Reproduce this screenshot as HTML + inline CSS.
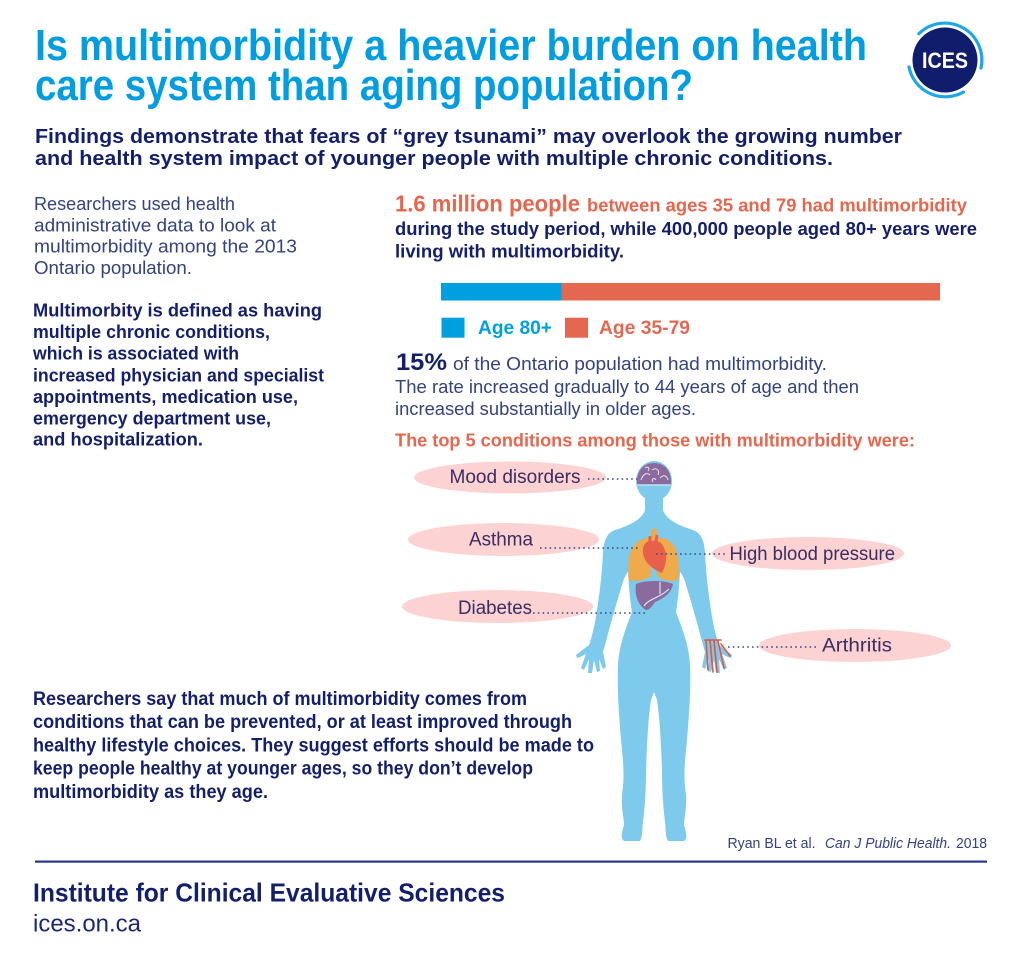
<!DOCTYPE html>
<html><head><meta charset="utf-8"><style>
html,body{margin:0;padding:0;background:#fff;}
svg{display:block;}
text{font-family:"Liberation Sans",Arial,sans-serif;}
.b{font-weight:bold;}
</style></head><body>
<svg width="1024" height="960" viewBox="0 0 1024 960" xmlns="http://www.w3.org/2000/svg">
<rect width="1024" height="960" fill="#fff"/>

<!-- Title -->
<text class="b" x="35" y="60" font-size="44" fill="#009ee0" textLength="832" lengthAdjust="spacingAndGlyphs">Is multimorbidity a heavier burden on health</text>
<text class="b" x="35" y="100" font-size="44" fill="#009ee0" textLength="658" lengthAdjust="spacingAndGlyphs">care system than aging population?</text>

<!-- Logo -->
<circle cx="945" cy="60" r="32.5" fill="#101c6c"/>
<path d="M918.8,33.8 A37,37 0 0 1 981,68" fill="none" stroke="#1fa6e6" stroke-width="3.2" stroke-linecap="round"/>
<path d="M963.5,92 A37,37 0 0 1 909,67" fill="none" stroke="#1fa6e6" stroke-width="3.2" stroke-linecap="round"/>
<text class="b" x="922" y="68" font-size="22" fill="#fff" textLength="46" lengthAdjust="spacingAndGlyphs">ICES</text>

<!-- Subtitle -->
<text class="b" x="35" y="143" font-size="20.5" fill="#131f6b" textLength="867" lengthAdjust="spacingAndGlyphs">Findings demonstrate that fears of “grey tsunami” may overlook the growing number</text>
<text class="b" x="35" y="165" font-size="20.5" fill="#131f6b" textLength="798" lengthAdjust="spacingAndGlyphs">and health system impact of younger people with multiple chronic conditions.</text>

<!-- Left paragraph -->
<g font-size="18.5" fill="#34427f">
<text x="34" y="210" textLength="201" lengthAdjust="spacingAndGlyphs">Researchers used health</text>
<text x="34" y="231.5" textLength="242" lengthAdjust="spacingAndGlyphs">administrative data to look at</text>
<text x="34" y="252.7" textLength="263" lengthAdjust="spacingAndGlyphs">multimorbidity among the 2013</text>
<text x="34" y="274" textLength="158" lengthAdjust="spacingAndGlyphs">Ontario population.</text>
</g>
<g class="b" font-size="18.5" fill="#131f6b" font-weight="bold">
<text x="33" y="316.7" textLength="289" lengthAdjust="spacingAndGlyphs">Multimorbity is defined as having</text>
<text x="33" y="338" textLength="237" lengthAdjust="spacingAndGlyphs">multiple chronic conditions,</text>
<text x="33" y="359.6" textLength="206" lengthAdjust="spacingAndGlyphs">which is associated with</text>
<text x="33" y="381.5" textLength="291" lengthAdjust="spacingAndGlyphs">increased physician and specialist</text>
<text x="33" y="402.8" textLength="265" lengthAdjust="spacingAndGlyphs">appointments, medication use,</text>
<text x="33" y="424.3" textLength="238" lengthAdjust="spacingAndGlyphs">emergency department use,</text>
<text x="33" y="445.6" textLength="170" lengthAdjust="spacingAndGlyphs">and hospitalization.</text>
</g>

<!-- Right block -->
<text class="b" x="395" y="211.7" font-size="23" fill="#e5674e" textLength="185" lengthAdjust="spacingAndGlyphs">1.6 million people</text>
<text class="b" x="587" y="211.7" font-size="18.5" fill="#e5674e" textLength="380" lengthAdjust="spacingAndGlyphs">between ages 35 and 79 had multimorbidity</text>
<text class="b" x="395" y="235" font-size="18.5" fill="#131f6b" textLength="582" lengthAdjust="spacingAndGlyphs">during the study period, while 400,000 people aged 80+ years were</text>
<text class="b" x="395" y="257.7" font-size="18.5" fill="#131f6b" textLength="229" lengthAdjust="spacingAndGlyphs">living with multimorbidity.</text>

<rect x="441" y="283" width="121" height="17.5" fill="#009fe0"/>
<rect x="561.5" y="283" width="378.5" height="17.5" fill="#e4684f"/>

<rect x="441.5" y="317.7" width="23" height="20" fill="#009fe0"/>
<text class="b" x="478" y="334" font-size="19.5" fill="#009fe0" textLength="74" lengthAdjust="spacingAndGlyphs">Age 80+</text>
<rect x="565" y="317.7" width="23" height="20" fill="#e4684f"/>
<text class="b" x="599" y="334" font-size="19.5" fill="#e4684f" textLength="91" lengthAdjust="spacingAndGlyphs">Age 35-79</text>

<text class="b" x="396" y="370" font-size="24" fill="#131f6b" textLength="51" lengthAdjust="spacingAndGlyphs">15%</text>
<text x="453" y="370" font-size="18.5" fill="#34427f" textLength="374" lengthAdjust="spacingAndGlyphs">of the Ontario population had multimorbidity.</text>
<text x="395" y="393" font-size="18.5" fill="#34427f" textLength="464" lengthAdjust="spacingAndGlyphs">The rate increased gradually to 44 years of age and then</text>
<text x="395" y="415" font-size="18.5" fill="#34427f" textLength="301" lengthAdjust="spacingAndGlyphs">increased substantially in older ages.</text>

<text class="b" x="395" y="446.5" font-size="18.5" fill="#e5674e" textLength="520" lengthAdjust="spacingAndGlyphs">The top 5 conditions among those with multimorbidity were:</text>

<!-- Pink ellipses -->
<g fill="#fcd2d2">
<ellipse cx="510" cy="477.5" rx="96" ry="16"/>
<ellipse cx="503.5" cy="539.5" rx="95.5" ry="16.5"/>
<ellipse cx="808" cy="553.5" rx="96" ry="16.5"/>
<ellipse cx="497.5" cy="606.5" rx="95.5" ry="16.5"/>
<ellipse cx="855" cy="645.5" rx="96" ry="16.5"/>
</g>

<!-- Body -->
<g fill="#7dcaed">
<ellipse cx="654" cy="481" rx="18" ry="20"/>
<path d="M654,497 L663,497 L663,510 C666,520 680,526 693,530 C701,533 704,540 705,552 C706,575 709,600 713,622 C715,632 717,640 719,645 C723,648 728,652 732,655 L731,658 C727,657 724,655 722,654 L727,668 L724,670 L719,659 L720,673 L716,673 L714,660 L711,672 L708,671 L709,659 L705,669 L702,667 L705,652 C703,645 701,638 699,630 C694,612 690,598 686,585 C684,578 682,574 680,572 C679,588 678,600 676,612 C682,628 689,645 690,665 C691,690 689,715 687,740 C685,760 683,775 686,795 C687,808 684,818 684,825 C686,832 688,838 684,841 L668,841 C665,836 666,828 665,822 C663,805 662,790 662,770 C661,745 660,720 657,700 L654,692 Z"/>
<path transform="matrix(-1 0 0 1 1308 0)" d="M654,497 L663,497 L663,510 C666,520 680,526 693,530 C701,533 704,540 705,552 C706,575 709,600 713,622 C715,632 717,640 719,645 C723,648 728,652 732,655 L731,658 C727,657 724,655 722,654 L727,668 L724,670 L719,659 L720,673 L716,673 L714,660 L711,672 L708,671 L709,659 L705,669 L702,667 L705,652 C703,645 701,638 699,630 C694,612 690,598 686,585 C684,578 682,574 680,572 C679,588 678,600 676,612 C682,628 689,645 690,665 C691,690 689,715 687,740 C685,760 683,775 686,795 C687,808 684,818 684,825 C686,832 688,838 684,841 L668,841 C665,836 666,828 665,822 C663,805 662,790 662,770 C661,745 660,720 657,700 L654,692 Z"/>
</g>

<!-- Brain -->
<path d="M637,485 C636,470 644,463 654,463 C664,463 672,470 671,485 Z" fill="#8b6b9e"/>
<path d="M641,480 C643,474 647,472 650,475 M652,470 C656,467 660,470 658,475 M660,478 C664,474 667,476 668,480 M645,468 C648,466 650,468 648,471 M656,480 C654,477 651,479 653,482" fill="none" stroke="#fff" stroke-width="1" opacity="0.8"/>
<line x1="637" y1="485" x2="671" y2="485" stroke="#bfe3f5" stroke-width="1.5"/>

<!-- Lungs -->
<rect x="651" y="529" width="6" height="12" fill="#efab4b"/>
<path d="M651,538 C640,537 631,545 629,558 C628,566 628,573 629,580 C637,582 645,580 651,576 Z" fill="#efab4b"/>
<path d="M657,538 C668,537 677,545 678,558 C679,566 679,573 678,580 C670,582 662,580 657,576 Z" fill="#efab4b"/>
<!-- Heart -->
<path d="M652,541 C646,540 642,546 643,553 C644,562 652,569 662,573 C666,565 668,556 664,548 C662,542 657,540 652,541 Z" fill="#e6604a"/>
<path d="M650,542 L650,536 M656,541 L657,535" stroke="#e6604a" stroke-width="3"/>
<!-- Liver -->
<path d="M636,584 C645,580 665,580 673,584 C672,592 665,598 655,602 C652,606 650,610 646,610 C639,606 634,596 636,584 Z" fill="#8b6b9e"/>
<path d="M644,606 C648,599 660,598 669,589 M660,582 L660,594" fill="none" stroke="#cfe6f4" stroke-width="1.2"/>

<!-- Arthritis hand -->
<g stroke="#e2553f" stroke-width="1.6" fill="none" stroke-linecap="round">
<path d="M706,640 L708,670"/>
<path d="M710,640 L713,672"/>
<path d="M714,640 L717,672"/>
<path d="M718,641 L724,668"/>
<path d="M721,644 L730,656"/>
<path d="M705,640 L721,640"/>
</g>

<!-- Dotted leader lines -->
<g stroke="#3a4a8f" stroke-width="1.6" stroke-dasharray="1.6 3.2" fill="none">
<line x1="588" y1="479" x2="637" y2="479"/>
<line x1="540" y1="548" x2="640" y2="548"/>
<line x1="656" y1="554" x2="727" y2="554"/>
<line x1="533" y1="613" x2="648" y2="613"/>
<line x1="728" y1="647" x2="818" y2="647"/>
</g>

<!-- Labels -->
<g font-size="19" fill="#3a2d62">
<text x="449.5" y="483" textLength="131" lengthAdjust="spacingAndGlyphs">Mood disorders</text>
<text x="469" y="545.7" textLength="64" lengthAdjust="spacingAndGlyphs">Asthma</text>
<text x="729.5" y="560" textLength="165.5" lengthAdjust="spacingAndGlyphs">High blood pressure</text>
<text x="458" y="614" textLength="74" lengthAdjust="spacingAndGlyphs">Diabetes</text>
<text x="822" y="651.7" textLength="70" lengthAdjust="spacingAndGlyphs">Arthritis</text>
</g>

<!-- Bottom paragraph -->
<g font-size="19" fill="#131f6b" font-weight="bold">
<text x="33" y="705" textLength="494" lengthAdjust="spacingAndGlyphs">Researchers say that much of multimorbidity comes from</text>
<text x="33" y="728" textLength="539" lengthAdjust="spacingAndGlyphs">conditions that can be prevented, or at least improved through</text>
<text x="33" y="751.5" textLength="561" lengthAdjust="spacingAndGlyphs">healthy lifestyle choices. They suggest efforts should be made to</text>
<text x="33" y="774.5" textLength="500" lengthAdjust="spacingAndGlyphs">keep people healthy at younger ages, so they don’t develop</text>
<text x="33" y="798" textLength="235" lengthAdjust="spacingAndGlyphs">multimorbidity as they age.</text>
</g>

<!-- Citation -->
<g font-size="14.5" fill="#34427f">
<text x="727.5" y="848" textLength="88" lengthAdjust="spacingAndGlyphs">Ryan BL et al.</text>
<text x="825" y="848" font-style="italic" textLength="126" lengthAdjust="spacingAndGlyphs">Can J Public Health.</text>
<text x="956" y="848" textLength="31" lengthAdjust="spacingAndGlyphs">2018</text>
</g>

<!-- Footer -->
<rect x="35" y="860.5" width="952" height="2.2" fill="#24378a"/>
<text class="b" x="33" y="901.7" font-size="26" fill="#131f6b" textLength="472" lengthAdjust="spacingAndGlyphs">Institute for Clinical Evaluative Sciences</text>
<text x="33" y="931.7" font-size="24" fill="#1b2870" textLength="108" lengthAdjust="spacingAndGlyphs">ices.on.ca</text>
</svg>
</body></html>
